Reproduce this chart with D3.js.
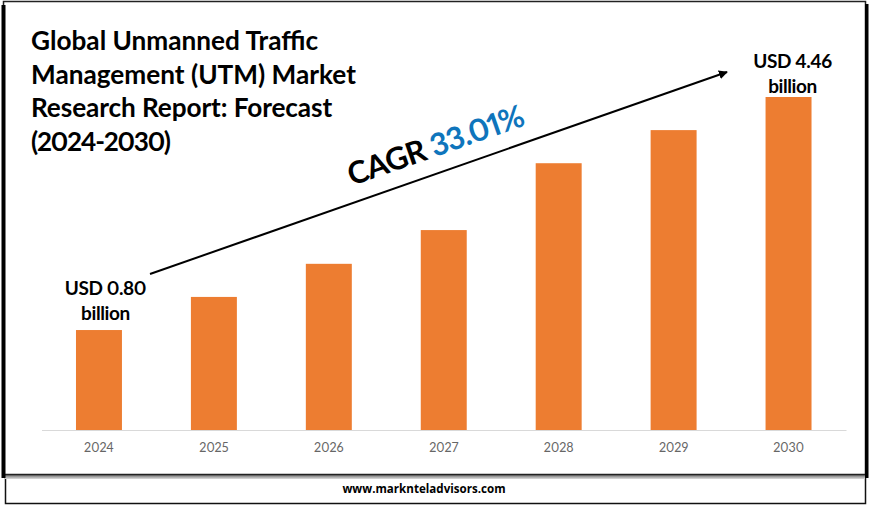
<!DOCTYPE html>
<html><head><meta charset="utf-8">
<script src="https://cdn.jsdelivr.net/npm/d3@7/dist/d3.min.js"></script>
<style>html,body{margin:0;padding:0;background:#fff;overflow:hidden}svg{display:block}text{font-family:Lato,"Open Sans",sans-serif;font-variant-numeric:proportional-nums}</style>
</head><body><svg id="c" width="870" height="506"></svg>
<script>
const years = ["2024","2025","2026","2027","2028","2029","2030"];
const values = [0.80,1.32,1.84,2.37,3.42,3.94,4.46];
const titleLines = ["Global Unmanned Traffic","Management (UTM) Market","Research Report: Forecast","(2024-2030)"];
const titleTracking = [0,0,-0.1,-1.2];
const startLabel = ["USD 0.80","billion"];
const endLabel = ["USD 4.46","billion"];
const svg = d3.select("#c");
const defs = svg.append("defs");
const grad = defs.append("linearGradient").attr("id","sh").attr("x1",0).attr("y1",0).attr("x2",0).attr("y2",1);
grad.append("stop").attr("offset",0).attr("stop-color","#555");
grad.append("stop").attr("offset",1).attr("stop-color","#ddd");
defs.append("marker").attr("id","ah").attr("viewBox","0 0 10 10").attr("refX",9).attr("refY",5)
  .attr("markerWidth",4.5).attr("markerHeight",4.5).attr("orient","auto")
  .append("path").attr("d","M0,0L10,5L0,10z").attr("fill","#000");
// frame
svg.append("rect").attr("x",5.5).attr("y",470).attr("width",860).attr("height",33.5).attr("fill","#fff").attr("stroke","#111").attr("stroke-width",1.5);
svg.append("rect").attr("x",5).attr("y",474).attr("width",860).attr("height",5).attr("fill","url(#sh)");
svg.append("rect").attr("x",3.5).attr("y",1.5).attr("width",862).attr("height",473).attr("fill","#fff").attr("stroke","#222").attr("stroke-width",1.5);
svg.append("rect").attr("x",1.5).attr("y",5).attr("width",4).attr("height",473).attr("fill","#000");
svg.append("rect").attr("x",865).attr("y",4).attr("width",3.5).attr("height",474).attr("fill","#000");
// scales
const x = d3.scaleBand().domain(years).range([41.5,846]).paddingInner(0.6).paddingOuter(0.3);
const y = d3.scaleLinear().domain([-0.77,4.46]).range([430,97]);
svg.append("g").selectAll("rect").data(years).join("rect")
  .attr("x",d=>x(d)).attr("width",x.bandwidth())
  .attr("y",(d,i)=>y(values[i])).attr("height",(d,i)=>430-y(values[i]))
  .attr("fill","#ed7d31");
const ax = svg.append("g").attr("transform","translate(0,430)").call(d3.axisBottom(x).tickSize(0).tickPadding(13));
ax.select(".domain").attr("stroke","#d9d9d9").attr("stroke-width",1);
ax.selectAll("text").attr("fill","#666").style("font-family","Lato").style("font-size","12.5px");
// title
svg.append("text").attr("font-weight",700).attr("font-size",26.2).attr("fill","#000")
  .selectAll("tspan").data(titleLines).join("tspan").attr("x",31).attr("y",(d,i)=>50+i*33.7)
  .attr("letter-spacing",(d,i)=>titleTracking[i]).text(d=>d);
// labels
const lab = (lines,cx,y0)=>svg.append("text").attr("text-anchor","middle").attr("font-weight",700).attr("font-size",19).attr("letter-spacing",-0.4).attr("fill","#000")
  .selectAll("tspan").data(lines).join("tspan").attr("x",cx).attr("y",(d,i)=>y0+i*25).text(d=>d);
lab(startLabel,x("2024")+x.bandwidth()/2+6.5,295);
lab(endLabel,x("2030")+x.bandwidth()/2+4,68);
// arrow
svg.append("line").attr("x1",150).attr("y1",274).attr("x2",727).attr("y2",72).attr("stroke","#000").attr("stroke-width",2).attr("marker-end","url(#ah)");
// CAGR
const t = svg.append("text").attr("transform","translate(352,186) rotate(-19.3)").attr("font-weight",700).attr("font-size",31).attr("letter-spacing",-0.8);
t.append("tspan").attr("fill","#000").text("CAGR ");
t.append("tspan").attr("fill","#0f75bc").text("33.01%");
// footer
svg.append("text").attr("x",424).attr("y",493).attr("text-anchor","middle").attr("font-weight",700).attr("font-size",11.6).attr("fill","#000").style("font-family","Open Sans").text("www.marknteladvisors.com");
</script></body></html>
